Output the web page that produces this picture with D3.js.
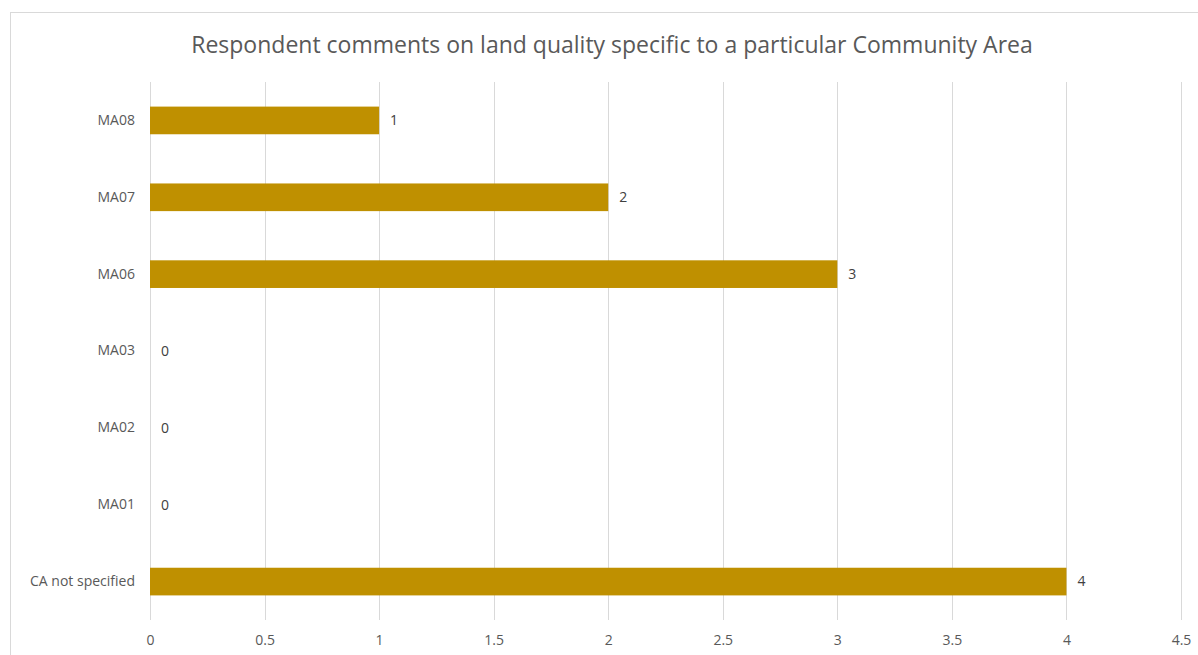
<!DOCTYPE html>
<html>
<head>
<meta charset="utf-8">
<script src="https://cdn.jsdelivr.net/npm/d3@7"></script>
<style>
  html, body { margin: 0; padding: 0; background: #fff; }
  svg { display: block; }
</style>
</head>
<body>
<svg id="chart" width="1198" height="655"></svg>
<script>
const categories = ["MA08", "MA07", "MA06", "MA03", "MA02", "MA01", "CA not specified"];
const values = [1, 2, 3, 0, 0, 0, 4];
const tickValues = [0, 0.5, 1, 1.5, 2, 2.5, 3, 3.5, 4, 4.5];
const title = "Respondent comments on land quality specific to a particular Community Area";

const svg = d3.select("#chart");
const font = "'Open Sans', 'Noto Sans', sans-serif";
const textColor = "#595959";

// chart frame
svg.append("rect")
  .attr("x", 10.5).attr("y", 12.5)
  .attr("width", 1200).attr("height", 700)
  .attr("fill", "#fff").attr("stroke", "#d9d9d9").attr("stroke-width", 1);

const plot = { left: 150, right: 1181, top: 82, bottom: 620 };

const x = d3.scaleLinear().domain([0, 4.5]).range([plot.left, plot.right]);
const y = d3.scaleBand().domain(categories).range([plot.top, plot.bottom]).paddingInner(0.64).paddingOuter(0.32);

// gridlines
svg.append("g").selectAll("line").data(tickValues).join("line")
  .attr("x1", d => Math.round(x(d)) + 0.5).attr("x2", d => Math.round(x(d)) + 0.5)
  .attr("y1", plot.top).attr("y2", plot.bottom)
  .attr("stroke", "#d9d9d9").attr("stroke-width", 1);

// x axis labels
const xAxis = d3.axisBottom(x).tickValues(tickValues).tickSize(0).tickPadding(0).tickFormat(d3.format("~g"));
const gx = svg.append("g").attr("transform", `translate(0,${plot.bottom + 15})`).call(xAxis);
gx.select(".domain").remove();
gx.selectAll("text").attr("font-family", font).attr("font-size", 14).attr("fill", textColor);

// y axis labels
const yAxis = d3.axisLeft(y).tickSize(0).tickPadding(0);
const gy = svg.append("g").attr("transform", `translate(${plot.left - 15},0)`).call(yAxis);
gy.select(".domain").remove();
gy.selectAll("text").attr("font-family", font).attr("font-size", 14).attr("fill", textColor);

// bars
svg.append("g").selectAll("rect").data(categories).join("rect")
  .attr("x", x(0))
  .attr("y", (d) => y(d))
  .attr("width", (d, i) => x(values[i]) - x(0))
  .attr("height", y.bandwidth())
  .attr("fill", "#bf9000");

// value labels
svg.append("g").selectAll("text").data(categories).join("text")
  .attr("x", (d, i) => x(values[i]) + 11)
  .attr("y", d => y(d) + y.bandwidth() / 2)
  .attr("dy", "0.35em")
  .attr("font-family", font).attr("font-size", 14).attr("fill", "#404040")
  .text((d, i) => values[i]);

// title
svg.append("text")
  .attr("x", 612).attr("y", 53)
  .attr("text-anchor", "middle")
  .attr("font-family", font).attr("font-size", 23).attr("fill", textColor)
  .text(title);
</script>
</body>
</html>
